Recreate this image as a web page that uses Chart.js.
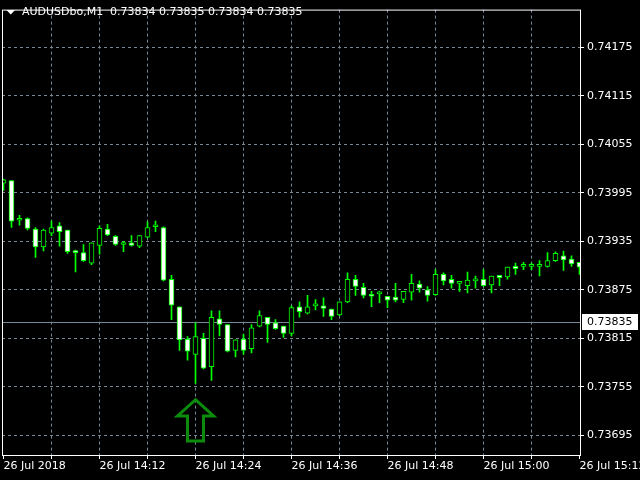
<!DOCTYPE html>
<html><head><meta charset="utf-8">
<style>html,body{margin:0;padding:0;background:#000;}canvas{display:block;background:#000;}</style>
<script src="https://cdn.jsdelivr.net/npm/chart.js@4.4.0/dist/chart.umd.min.js"></script>
</head><body>
<canvas id="c" width="640" height="480"></canvas>
<script>
// ---- data (AUDUSDbo, M1, 26 Jul 2018) ----
const times = ['14:00','14:01','14:02','14:03','14:04','14:05','14:06','14:07','14:08','14:09',
 '14:10','14:11','14:12','14:13','14:14','14:15','14:16','14:17','14:18','14:19',
 '14:20','14:21','14:22','14:23','14:24','14:25','14:26','14:27','14:28','14:29',
 '14:30','14:31','14:32','14:33','14:34','14:35','14:36','14:37','14:38','14:39',
 '14:40','14:41','14:42','14:43','14:44','14:45','14:46','14:47','14:48','14:49',
 '14:50','14:51','14:52','14:53','14:54','14:55','14:56','14:57','14:58','14:59',
 '15:00','15:01','15:02','15:03','15:04','15:05','15:06','15:07','15:08','15:09',
 '15:10','15:11','15:12'];
const openP = [0.74007,0.74010,0.73961,0.73963,0.73950,0.73928,0.73945,0.73954,0.73949,0.73922,
 0.73921,0.73908,0.73930,0.73950,0.73941,0.73931,0.73933,0.73929,0.73940,0.73953,
 0.73952,0.73888,0.73854,0.73814,0.73795,0.73815,0.73780,0.73839,0.73832,0.73800,
 0.73814,0.73802,0.73830,0.73841,0.73834,0.73830,0.73821,0.73854,0.73846,0.73855,
 0.73855,0.73851,0.73844,0.73860,0.73888,0.73878,0.73869,0.73870,0.73867,0.73866,
 0.73863,0.73872,0.73882,0.73875,0.73869,0.73894,0.73888,0.73883,0.73880,0.73886,
 0.73888,0.73881,0.73893,0.73891,0.73904,0.73904,0.73904,0.73904,0.73904,0.73911,
 0.73917,0.73913,0.73909];
const highP = [0.74012,0.74010,0.73967,0.73964,0.73952,0.73950,0.73960,0.73958,0.73949,0.73924,
 0.73931,0.73933,0.73954,0.73956,0.73942,0.73935,0.73942,0.73942,0.73959,0.73960,
 0.73953,0.73893,0.73854,0.73817,0.73834,0.73821,0.73849,0.73849,0.73832,0.73813,
 0.73820,0.73832,0.73849,0.73841,0.73838,0.73830,0.73855,0.73860,0.73868,0.73863,
 0.73865,0.73851,0.73860,0.73896,0.73893,0.73883,0.73873,0.73873,0.73867,0.73883,
 0.73873,0.73894,0.73886,0.73879,0.73900,0.73896,0.73893,0.73885,0.73897,0.73892,
 0.73900,0.73892,0.73893,0.73903,0.73908,0.73909,0.73908,0.73911,0.73921,0.73922,
 0.73923,0.73917,0.73909];
const lowP = [0.73998,0.73952,0.73955,0.73949,0.73915,0.73923,0.73942,0.73929,0.73920,0.73897,
 0.73910,0.73906,0.73919,0.73942,0.73930,0.73922,0.73929,0.73927,0.73939,0.73947,
 0.73886,0.73838,0.73800,0.73788,0.73759,0.73777,0.73763,0.73818,0.73798,0.73792,
 0.73795,0.73797,0.73829,0.73810,0.73826,0.73816,0.73818,0.73841,0.73845,0.73850,
 0.73842,0.73838,0.73843,0.73859,0.73868,0.73865,0.73854,0.73859,0.73853,0.73860,
 0.73859,0.73862,0.73872,0.73861,0.73868,0.73881,0.73877,0.73873,0.73871,0.73877,
 0.73879,0.73871,0.73880,0.73888,0.73894,0.73900,0.73900,0.73892,0.73903,0.73910,
 0.73899,0.73904,0.73894];
const closeP = [0.74011,0.73960,0.73961,0.73951,0.73928,0.73949,0.73952,0.73947,0.73922,0.73921,
 0.73911,0.73933,0.73951,0.73943,0.73931,0.73931,0.73930,0.73942,0.73952,0.73953,
 0.73887,0.73856,0.73813,0.73799,0.73817,0.73778,0.73841,0.73832,0.73799,0.73813,
 0.73800,0.73828,0.73843,0.73832,0.73827,0.73821,0.73853,0.73848,0.73854,0.73855,
 0.73852,0.73842,0.73860,0.73888,0.73879,0.73868,0.73867,0.73870,0.73862,0.73862,
 0.73873,0.73883,0.73877,0.73868,0.73894,0.73886,0.73883,0.73883,0.73887,0.73886,
 0.73880,0.73892,0.73890,0.73903,0.73901,0.73904,0.73904,0.73904,0.73911,0.73920,
 0.73912,0.73907,0.73903];
const priceTicks = [0.73695,0.73755,0.73815,0.73875,0.73935,0.73995,0.74055,0.74115,0.74175];
const timeTickIdx = [0,6,12,18,24,30,36,42,48,54,60,66,72];
const timeLabelIdx = [0,12,24,36,48,60,72];
const timeLabelText = ['26 Jul 2018','26 Jul 14:12','26 Jul 14:24','26 Jul 14:36','26 Jul 14:48','26 Jul 15:00','26 Jul 15:12'];
const currentPrice = 0.73835;
const titleSymbol = 'AUDUSDbo,M1';
const titleValues = ['0.73834','0.73835','0.73834','0.73835'];
const arrowIndex = 24, arrowTip = 0.73739, arrowHeadBase = 0.73719, arrowBottom = 0.73688;

// ---- styles ----
const GREEN = '#00ff00', GRID = '#778899', FONT = 'DejaVu Sans';

const wickData = times.map((t, i) => ({x: i, y: [lowP[i], highP[i]]}));
const bodyData = times.map((t, i) => ({x: i, y: [openP[i], closeP[i]]}));
const bodyFill = times.map((t, i) => closeP[i] >= openP[i] ? '#000000' : '#ffffff');

const overlay = {
  id: 'mt4overlay',
  beforeDatasetsDraw(chart) {
    const {ctx, chartArea: ca, scales: {y}} = chart;
    const py = Math.round(y.getPixelForValue(currentPrice)) + 0.5;
    ctx.save();
    ctx.strokeStyle = GRID; ctx.lineWidth = 1;
    ctx.beginPath(); ctx.moveTo(ca.left, py); ctx.lineTo(ca.right, py); ctx.stroke();
    ctx.restore();
  },
  afterDatasetsDraw(chart) {
    const {ctx, scales: {x, y}} = chart;
    const cx = x.getPixelForValue(arrowIndex);
    const yt = y.getPixelForValue(arrowTip), yh = y.getPixelForValue(arrowHeadBase), yb = y.getPixelForValue(arrowBottom);
    ctx.save();
    ctx.strokeStyle = '#0c8c0c'; ctx.lineWidth = 3; ctx.lineJoin = 'miter';
    ctx.beginPath();
    ctx.moveTo(cx, yt); ctx.lineTo(cx + 18, yh); ctx.lineTo(cx + 8, yh); ctx.lineTo(cx + 8, yb);
    ctx.lineTo(cx - 8, yb); ctx.lineTo(cx - 8, yh); ctx.lineTo(cx - 18, yh); ctx.closePath();
    ctx.stroke();
    ctx.restore();
  },
  afterDraw(chart) {
    const {ctx, chartArea: ca, scales: {y}} = chart;
    ctx.save();
    ctx.strokeStyle = '#ffffff'; ctx.lineWidth = 1;
    ctx.strokeRect(ca.left + 0.5, ca.top + 0.5, ca.right - ca.left, ca.bottom - ca.top);
    // current price box
    const py = Math.round(y.getPixelForValue(currentPrice));
    ctx.fillStyle = '#ffffff';
    ctx.fillRect(ca.right + 2, py - 8, 56, 16);
    ctx.fillStyle = '#000000';
    ctx.font = '11px "' + FONT + '"';
    ctx.textBaseline = 'middle'; ctx.textAlign = 'left';
    ctx.fillText(currentPrice.toFixed(5), ca.right + 7, py + 0.5);
    // title
    ctx.fillStyle = '#ffffff';
    ctx.beginPath(); ctx.moveTo(6.5, 10); ctx.lineTo(15, 10); ctx.lineTo(10.75, 14.5); ctx.closePath(); ctx.fill();
    ctx.fillText(titleSymbol, 22, 12.5);
    ctx.fillText(titleValues.join(' '), 110, 12.5);
    ctx.restore();
  }
};

new Chart(document.getElementById('c'), {
  type: 'bar',
  data: {
    datasets: [
      {label: 'wick', data: wickData, backgroundColor: GREEN, borderWidth: 0, barThickness: 1, grouped: false, order: 2},
      {label: 'body', data: bodyData, backgroundColor: bodyFill, borderColor: GREEN, borderWidth: 1, borderSkipped: false,
       barThickness: 5, minBarLength: 2, grouped: false, order: 1}
    ]
  },
  options: {
    responsive: false, animation: false, devicePixelRatio: 1,
    layout: {padding: {left: 2, top: 2, right: 0, bottom: 0}},
    plugins: {legend: {display: false}, tooltip: {enabled: false}},
    scales: {
      x: {
        type: 'linear', min: -0.1875, max: 72.0625, offset: false,
        afterBuildTicks: s => { s.ticks = timeTickIdx.map(v => ({value: v})); },
        afterFit: s => { s.height = 25; s.paddingLeft = 0; s.paddingRight = 0; },
        ticks: {autoSkip: false, maxRotation: 0, minRotation: 0, align: 'start', color: '#ffffff', padding: 1,
          font: {family: FONT, size: 11},
          callback: v => { const k = timeLabelIdx.indexOf(v); return k >= 0 ? timeLabelText[k] : ''; }},
        grid: {offset: false, color: c => (c.tick && (c.tick.value === 0 || c.tick.value === 72)) ? 'rgba(0,0,0,0)' : GRID,
          tickColor: '#ffffff', tickLength: 4, lineWidth: 1},
        border: {display: false, dash: [3, 3]}
      },
      y: {
        type: 'linear', position: 'right', min: 0.736706, max: 0.742216,
        afterBuildTicks: s => { s.ticks = priceTicks.map(v => ({value: v})); },
        afterFit: s => { s.width = 60; },
        ticks: {color: '#ffffff', padding: 3, font: {family: FONT, size: 11}, callback: v => Number(v).toFixed(5)},
        grid: {color: GRID, tickColor: '#ffffff', tickLength: 4, lineWidth: 1},
        border: {display: false, dash: [3, 3]}
      }
    }
  },
  plugins: [overlay]
});
</script>
</body></html>
